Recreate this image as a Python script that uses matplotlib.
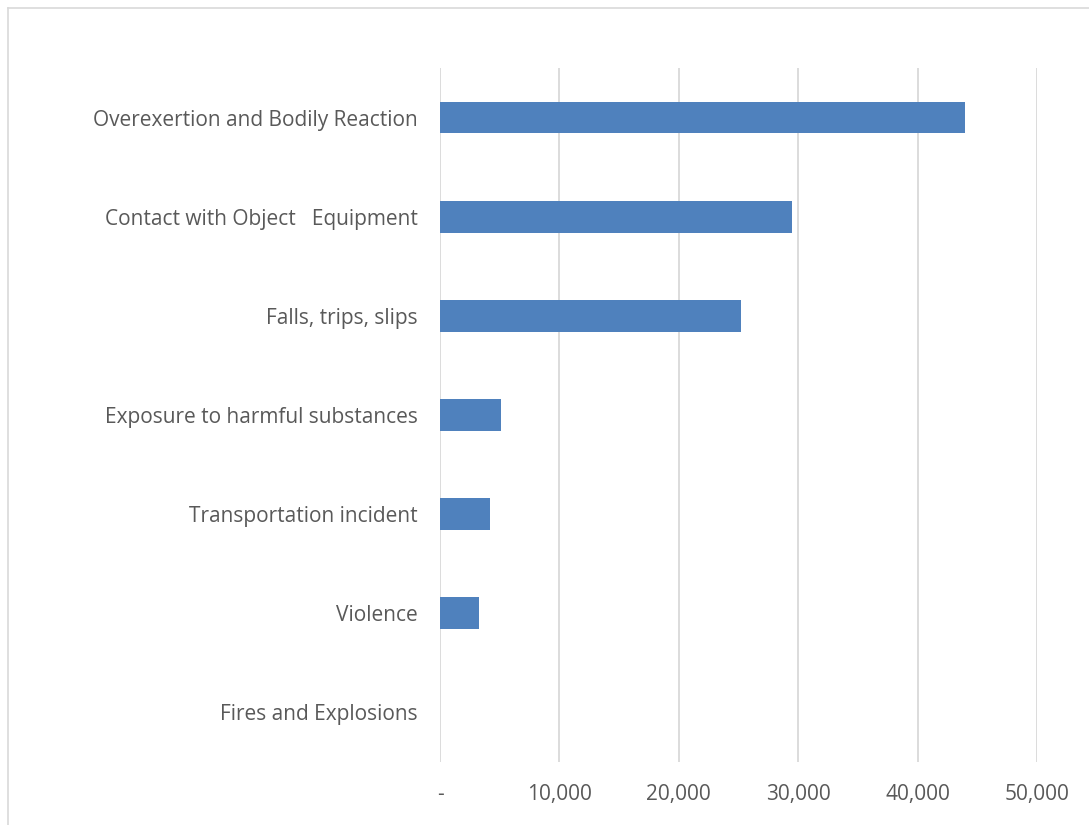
import matplotlib.pyplot as plt
from matplotlib.lines import Line2D
from matplotlib.ticker import FuncFormatter

# Injury categories (top to bottom as shown) and counts
categories = [
    "Overexertion and Bodily Reaction",
    "Contact with Object   Equipment",
    "Falls, trips, slips",
    "Exposure to harmful substances",
    "Transportation incident",
    "Violence",
    "Fires and Explosions",
]
counts = [44000, 29500, 25200, 5100, 4200, 3300, 0]
x_ticks = [0, 10000, 20000, 30000, 40000, 50000]

text_color = "#595959"
grid_color = "#d9d9d9"
bar_color = "#4f81bd"

plt.rcParams['font.family'] = ['Open Sans', 'DejaVu Sans']

fig = plt.figure(figsize=(10.89, 8.25), dpi=100)
ax = fig.add_axes([440 / 1089, 1 - 762 / 825, (1037 - 440) / 1089, (762 - 68) / 825])

# chart area border (top and left edges visible)
fig.add_artist(Line2D([8 / 1089, 8 / 1089], [0, 1 - 8 / 825], transform=fig.transFigure,
                      color=grid_color, lw=1.2))
fig.add_artist(Line2D([8 / 1089, 1], [1 - 8 / 825, 1 - 8 / 825], transform=fig.transFigure,
                      color=grid_color, lw=1.2))

y = list(range(len(categories)))
ax.barh(y, counts, height=0.32, color=bar_color, zorder=3)
ax.set_ylim(len(categories) - 0.5, -0.5)
ax.set_yticks(y)
ax.set_yticklabels(categories)

ax.set_xlim(0, 50000)
ax.set_xticks(x_ticks)
ax.xaxis.set_major_formatter(FuncFormatter(lambda v, p: "-" if v == 0 else f"{int(v):,}"))
ax.grid(axis='x', color=grid_color, lw=1.3, zorder=0)

for s in ax.spines.values():
    s.set_visible(False)
ax.tick_params(axis='y', length=0, pad=16, labelsize=15, labelcolor=text_color)
ax.tick_params(axis='x', length=0, pad=16, labelsize=15, labelcolor=text_color)

plt.savefig('out.png', dpi=100)
